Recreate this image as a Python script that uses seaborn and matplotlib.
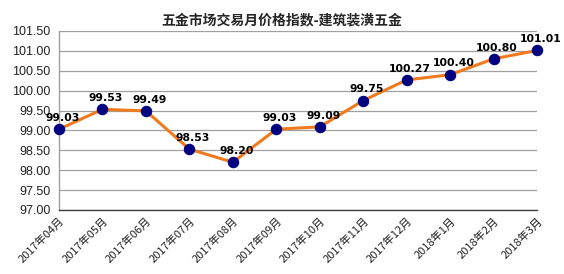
import matplotlib
matplotlib.use("Agg")
import matplotlib.pyplot as plt
import seaborn as sns
import pandas as pd

months = ["2017年04月", "2017年05月", "2017年06月", "2017年07月", "2017年08月", "2017年09月",
          "2017年10月", "2017年11月", "2017年12月", "2018年1月", "2018年2月", "2018年3月"]
values = [99.03, 99.53, 99.49, 98.53, 98.20, 99.03, 99.09, 99.75, 100.27, 100.40, 100.80, 101.01]
yticks = [97.00, 97.50, 98.00, 98.50, 99.00, 99.50, 100.00, 100.50, 101.00, 101.50]
title = "五金市场交易月价格指数-建筑装潢五金"

sns.set_theme(style="white")
plt.rcParams['font.family'] = ['Noto Sans CJK SC', 'DejaVu Sans']

df = pd.DataFrame({"x": range(len(months)), "v": values})

fig = plt.figure(figsize=(5.64, 2.74), dpi=100)
ax = fig.add_axes([0.1046, 0.2336, 0.8476, 0.6534])

sns.lineplot(data=df, x="x", y="v", ax=ax, color="#F07A1E", linewidth=2.2,
             marker="o", markersize=7.5, markerfacecolor="#000080",
             markeredgecolor="#000080", clip_on=False, zorder=3)

for i, v in enumerate(values):
    ax.annotate(f"{v:.2f}", (i, v), xytext=(2.5, 4.5), textcoords="offset points",
                ha="center", va="bottom", fontsize=7.8, fontweight="bold",
                color="black", family=['DejaVu Sans'], annotation_clip=False)

ax.set_xlim(0, len(months) - 1)
ax.set_ylim(97.0, 101.5)
ax.set_yticks(yticks)
ax.set_yticklabels([f"{t:.2f}" for t in yticks], fontsize=9, color="#222222",
                   family=['Liberation Sans'])
ax.set_xticks(range(len(months)))
ax.set_xticklabels(months, rotation=45, ha="right", rotation_mode="anchor",
                   fontsize=8, color="#222222")
ax.tick_params(axis="x", pad=4, length=0)
ax.tick_params(axis="y", pad=6, length=0)
ax.set_xlabel("")
ax.set_ylabel("")
ax.grid(axis="y", color="#A0A0A0", linewidth=0.9)
ax.grid(axis="x", visible=False)
for s in ["top", "right"]:
    ax.spines[s].set_visible(False)
ax.spines["left"].set_color("#A0A0A0")
ax.spines["left"].set_linewidth(1.0)
ax.spines["bottom"].set_color("#404040")
ax.spines["bottom"].set_linewidth(1.0)

fig.text(0.5, 0.925, title, ha="center", va="center", fontsize=10, fontweight="bold")

fig.savefig("out.png", dpi=100)
